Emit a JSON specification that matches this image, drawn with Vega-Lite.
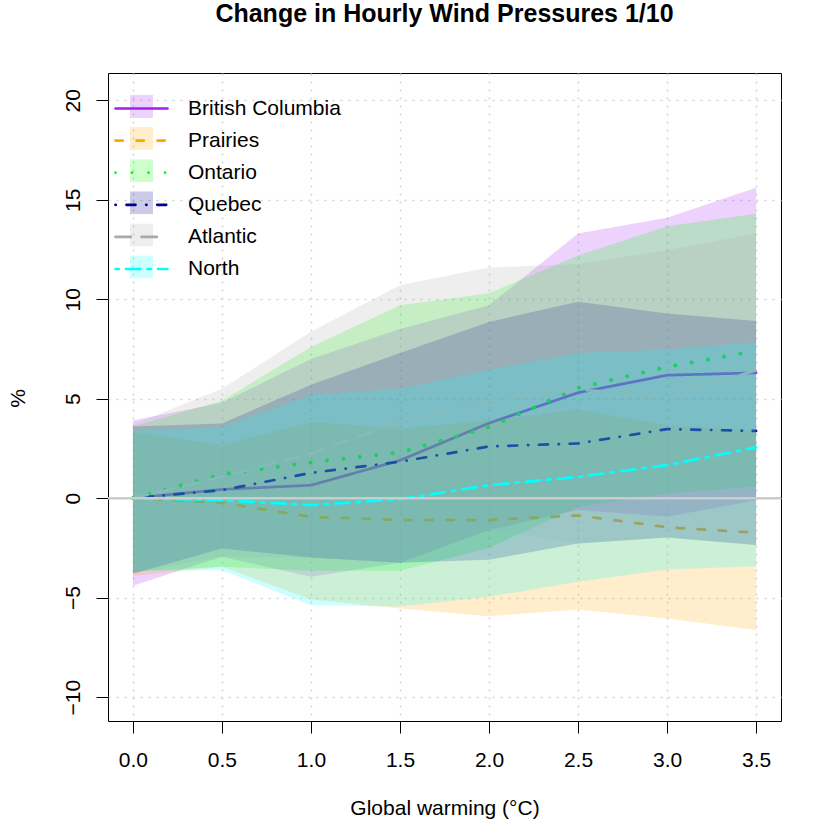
{
"$schema": "https://vega.github.io/schema/vega-lite/v6.json",
"width": 673, "height": 648,
"autosize": {"type": "none"},
"padding": {"left": 108, "top": 73, "right": 50, "bottom": 109},
"background": "white",
"title": {"text": "Change in Hourly Wind Pressures 1/10", "font": "Liberation Sans", "fontSize": 25, "fontWeight": "bold", "color": "black", "anchor": "middle", "offset": 26, "baseline": "alphabetic"},
"datasets": {"d": [
{"region":"British Columbia","x":0,"mean":0,"lo":-4.4,"hi":3.9},
{"region":"British Columbia","x":0.5,"mean":0.44,"lo":-2.95,"hi":4.8},
{"region":"British Columbia","x":1,"mean":0.65,"lo":-3.95,"hi":7.0},
{"region":"British Columbia","x":1.5,"mean":1.9,"lo":-3.25,"hi":8.5},
{"region":"British Columbia","x":2,"mean":3.77,"lo":-1.6,"hi":9.7},
{"region":"British Columbia","x":2.5,"mean":5.3,"lo":-0.6,"hi":13.3},
{"region":"British Columbia","x":3,"mean":6.18,"lo":-0.94,"hi":14.1},
{"region":"British Columbia","x":3.5,"mean":6.3,"lo":-0.1,"hi":15.6},
{"region":"Prairies","x":0,"mean":0,"lo":-3.9,"hi":3.33},
{"region":"Prairies","x":0.5,"mean":-0.23,"lo":-3.45,"hi":2.66},
{"region":"Prairies","x":1,"mean":-0.94,"lo":-5.09,"hi":3.83},
{"region":"Prairies","x":1.5,"mean":-1.1,"lo":-5.55,"hi":3.5},
{"region":"Prairies","x":2,"mean":-1.1,"lo":-5.93,"hi":3.9},
{"region":"Prairies","x":2.5,"mean":-0.87,"lo":-5.6,"hi":4.46},
{"region":"Prairies","x":3,"mean":-1.46,"lo":-6.05,"hi":3.67},
{"region":"Prairies","x":3.5,"mean":-1.74,"lo":-6.63,"hi":3.42},
{"region":"Ontario","x":0,"mean":0,"lo":-3.7,"hi":3.6},
{"region":"Ontario","x":0.5,"mean":1.2,"lo":-3.45,"hi":4.9},
{"region":"Ontario","x":1,"mean":1.8,"lo":-3.65,"hi":7.6},
{"region":"Ontario","x":1.5,"mean":2.3,"lo":-3.65,"hi":9.7},
{"region":"Ontario","x":2,"mean":3.57,"lo":-2.5,"hi":10.3},
{"region":"Ontario","x":2.5,"mean":5.54,"lo":-0.43,"hi":12.2},
{"region":"Ontario","x":3,"mean":6.6,"lo":0.24,"hi":13.67},
{"region":"Ontario","x":3.5,"mean":7.4,"lo":0.57,"hi":14.3},
{"region":"Quebec","x":0,"mean":0,"lo":-3.8,"hi":3.6},
{"region":"Quebec","x":0.5,"mean":0.4,"lo":-2.53,"hi":3.75},
{"region":"Quebec","x":1,"mean":1.27,"lo":-2.98,"hi":5.7},
{"region":"Quebec","x":1.5,"mean":1.83,"lo":-3.25,"hi":7.3},
{"region":"Quebec","x":2,"mean":2.6,"lo":-3.1,"hi":8.86},
{"region":"Quebec","x":2.5,"mean":2.75,"lo":-2.28,"hi":9.87},
{"region":"Quebec","x":3,"mean":3.47,"lo":-1.98,"hi":9.28},
{"region":"Quebec","x":3.5,"mean":3.38,"lo":-2.36,"hi":8.9},
{"region":"Atlantic","x":0,"mean":0,"lo":-3.75,"hi":3.7},
{"region":"Atlantic","x":0.5,"mean":1.07,"lo":-2.95,"hi":5.5},
{"region":"Atlantic","x":1,"mean":2.26,"lo":-2.98,"hi":8.36},
{"region":"Atlantic","x":1.5,"mean":3.83,"lo":-3.25,"hi":10.7},
{"region":"Atlantic","x":2,"mean":4.9,"lo":-1.6,"hi":11.6},
{"region":"Atlantic","x":2.5,"mean":5.46,"lo":-2.28,"hi":11.76},
{"region":"Atlantic","x":3,"mean":5.1,"lo":-1.98,"hi":12.46},
{"region":"Atlantic","x":3.5,"mean":6.43,"lo":-2.36,"hi":13.3},
{"region":"North","x":0,"mean":0,"lo":-3.65,"hi":3.4},
{"region":"North","x":0.5,"mean":-0.1,"lo":-3.62,"hi":3.58},
{"region":"North","x":1,"mean":-0.35,"lo":-5.38,"hi":5.2},
{"region":"North","x":1.5,"mean":-0.05,"lo":-5.45,"hi":5.5},
{"region":"North","x":2,"mean":0.65,"lo":-4.96,"hi":6.45},
{"region":"North","x":2.5,"mean":1.07,"lo":-4.2,"hi":7.3},
{"region":"North","x":3,"mean":1.66,"lo":-3.58,"hi":7.47},
{"region":"North","x":3.5,"mean":2.55,"lo":-3.42,"hi":7.85}
]},
"data": {"name": "d"},
"layer": [
{
"encoding": {"x": {"field": "x", "type": "quantitative", "scale": {"domain": [-0.14, 3.64], "nice": false, "zero": false}, "axis": {"values": [0, 0.5, 1, 1.5, 2, 2.5, 3, 3.5], "format": ".1f", "title": "Global warming (°C)"}}},
"layer": [
{"transform": [{"filter": "datum.region === 'British Columbia'"}], "mark": {"type": "area", "opacity": 0.2},
 "encoding": {"y": {"field": "lo", "type": "quantitative", "scale": {"domain": [-11.2, 21.37], "nice": false, "zero": false}, "axis": {"values": [-10, -5, 0, 5, 10, 15, 20], "title": "%"}}, "y2": {"field": "hi"},
  "fill": {"field": "region", "type": "nominal", "scale": {"domain": ["British Columbia","Prairies","Ontario","Quebec","Atlantic","North"], "range": ["#A020F0","#FFA500","#00FF00","#00008B","#A9A9A9","#00FFFF"]}, "legend": {"orient": "top-left", "offset": 22, "title": null, "symbolType": "square", "symbolSize": 529, "symbolOpacity": 0.2, "symbolStrokeWidth": 0, "labelExpr": "''", "labelFontSize": 21, "rowPadding": 9.1, "clipHeight": 23, "padding": 0}}}},
{"transform": [{"filter": "datum.region === 'British Columbia'"}], "mark": {"type": "line", "strokeWidth": 2.7, "strokeCap": "round"},
 "encoding": {"y": {"field": "mean", "type": "quantitative", "scale": {"domain": [-11.2, 21.37], "nice": false, "zero": false}, "axis": {"values": [-10, -5, 0, 5, 10, 15, 20], "title": "%"}},
  "stroke": {"field": "region", "type": "nominal", "scale": {"domain": ["British Columbia","Prairies","Ontario","Quebec","Atlantic","North"], "range": ["#A020F0","#FFA500","#00FF00","#00008B","#A9A9A9","#00FFFF"]}, "legend": null},
  "strokeDash": {"field": "region", "type": "nominal", "scale": {"domain": ["British Columbia","Prairies","Ontario","Quebec","Atlantic","North"], "range": [[1,0],[7.3,13.7],[0.01,16.5],[0.3,10.7,9,10.7],[15.3,10.7],[3.3,7.2,14.3,7.2]]}, "legend": {"orient": "none", "legendX": 6, "legendY": 24, "title": null, "symbolType": "stroke", "symbolSize": 2704, "symbolStrokeWidth": 2.7, "labelFontSize": 21, "labelFont": "Liberation Sans", "labelColor": "black", "labelOffset": 19, "rowPadding": 9.1, "clipHeight": 23, "padding": 0, "encode": {"symbols": {"update": {"strokeCap": {"value": "round"}, "stroke": {"scale": "stroke", "field": "value"}}}}}}}},
{"transform": [{"filter": "datum.region === 'Prairies'"}], "mark": {"type": "area", "opacity": 0.2},
 "encoding": {"y": {"field": "lo", "type": "quantitative", "scale": {"domain": [-11.2, 21.37], "nice": false, "zero": false}, "axis": {"values": [-10, -5, 0, 5, 10, 15, 20], "title": "%"}}, "y2": {"field": "hi"},
  "fill": {"field": "region", "type": "nominal", "scale": {"domain": ["British Columbia","Prairies","Ontario","Quebec","Atlantic","North"], "range": ["#A020F0","#FFA500","#00FF00","#00008B","#A9A9A9","#00FFFF"]}}}},
{"transform": [{"filter": "datum.region === 'Prairies'"}], "mark": {"type": "line", "strokeWidth": 2.7, "strokeCap": "round"},
 "encoding": {"y": {"field": "mean", "type": "quantitative", "scale": {"domain": [-11.2, 21.37], "nice": false, "zero": false}, "axis": {"values": [-10, -5, 0, 5, 10, 15, 20], "title": "%"}},
  "stroke": {"field": "region", "type": "nominal", "scale": {"domain": ["British Columbia","Prairies","Ontario","Quebec","Atlantic","North"], "range": ["#A020F0","#FFA500","#00FF00","#00008B","#A9A9A9","#00FFFF"]}, "legend": null},
  "strokeDash": {"field": "region", "type": "nominal", "scale": {"domain": ["British Columbia","Prairies","Ontario","Quebec","Atlantic","North"], "range": [[1,0],[7.3,13.7],[0.01,16.5],[0.3,10.7,9,10.7],[15.3,10.7],[3.3,7.2,14.3,7.2]]}}}},
{"transform": [{"filter": "datum.region === 'Ontario'"}], "mark": {"type": "area", "opacity": 0.2},
 "encoding": {"y": {"field": "lo", "type": "quantitative", "scale": {"domain": [-11.2, 21.37], "nice": false, "zero": false}, "axis": {"values": [-10, -5, 0, 5, 10, 15, 20], "title": "%"}}, "y2": {"field": "hi"},
  "fill": {"field": "region", "type": "nominal", "scale": {"domain": ["British Columbia","Prairies","Ontario","Quebec","Atlantic","North"], "range": ["#A020F0","#FFA500","#00FF00","#00008B","#A9A9A9","#00FFFF"]}}}},
{"transform": [{"filter": "datum.region === 'Ontario'"}], "mark": {"type": "line", "strokeWidth": 4, "strokeCap": "round"},
 "encoding": {"y": {"field": "mean", "type": "quantitative", "scale": {"domain": [-11.2, 21.37], "nice": false, "zero": false}, "axis": {"values": [-10, -5, 0, 5, 10, 15, 20], "title": "%"}},
  "stroke": {"field": "region", "type": "nominal", "scale": {"domain": ["British Columbia","Prairies","Ontario","Quebec","Atlantic","North"], "range": ["#A020F0","#FFA500","#00FF00","#00008B","#A9A9A9","#00FFFF"]}, "legend": null},
  "strokeDash": {"field": "region", "type": "nominal", "scale": {"domain": ["British Columbia","Prairies","Ontario","Quebec","Atlantic","North"], "range": [[1,0],[7.3,13.7],[0.01,16.5],[0.3,10.7,9,10.7],[15.3,10.7],[3.3,7.2,14.3,7.2]]}}}},
{"transform": [{"filter": "datum.region === 'Quebec'"}], "mark": {"type": "area", "opacity": 0.2},
 "encoding": {"y": {"field": "lo", "type": "quantitative", "scale": {"domain": [-11.2, 21.37], "nice": false, "zero": false}, "axis": {"values": [-10, -5, 0, 5, 10, 15, 20], "title": "%"}}, "y2": {"field": "hi"},
  "fill": {"field": "region", "type": "nominal", "scale": {"domain": ["British Columbia","Prairies","Ontario","Quebec","Atlantic","North"], "range": ["#A020F0","#FFA500","#00FF00","#00008B","#A9A9A9","#00FFFF"]}}}},
{"transform": [{"filter": "datum.region === 'Quebec'"}], "mark": {"type": "line", "strokeWidth": 2.7, "strokeCap": "round"},
 "encoding": {"y": {"field": "mean", "type": "quantitative", "scale": {"domain": [-11.2, 21.37], "nice": false, "zero": false}, "axis": {"values": [-10, -5, 0, 5, 10, 15, 20], "title": "%"}},
  "stroke": {"field": "region", "type": "nominal", "scale": {"domain": ["British Columbia","Prairies","Ontario","Quebec","Atlantic","North"], "range": ["#A020F0","#FFA500","#00FF00","#00008B","#A9A9A9","#00FFFF"]}, "legend": null},
  "strokeDash": {"field": "region", "type": "nominal", "scale": {"domain": ["British Columbia","Prairies","Ontario","Quebec","Atlantic","North"], "range": [[1,0],[7.3,13.7],[0.01,16.5],[0.3,10.7,9,10.7],[15.3,10.7],[3.3,7.2,14.3,7.2]]}}}},
{"transform": [{"filter": "datum.region === 'Atlantic'"}], "mark": {"type": "area", "opacity": 0.2},
 "encoding": {"y": {"field": "lo", "type": "quantitative", "scale": {"domain": [-11.2, 21.37], "nice": false, "zero": false}, "axis": {"values": [-10, -5, 0, 5, 10, 15, 20], "title": "%"}}, "y2": {"field": "hi"},
  "fill": {"field": "region", "type": "nominal", "scale": {"domain": ["British Columbia","Prairies","Ontario","Quebec","Atlantic","North"], "range": ["#A020F0","#FFA500","#00FF00","#00008B","#A9A9A9","#00FFFF"]}}}},
{"transform": [{"filter": "datum.region === 'Atlantic'"}], "mark": {"type": "line", "strokeWidth": 2.7, "strokeCap": "round"},
 "encoding": {"y": {"field": "mean", "type": "quantitative", "scale": {"domain": [-11.2, 21.37], "nice": false, "zero": false}, "axis": {"values": [-10, -5, 0, 5, 10, 15, 20], "title": "%"}},
  "stroke": {"field": "region", "type": "nominal", "scale": {"domain": ["British Columbia","Prairies","Ontario","Quebec","Atlantic","North"], "range": ["#A020F0","#FFA500","#00FF00","#00008B","#A9A9A9","#00FFFF"]}, "legend": null},
  "strokeDash": {"field": "region", "type": "nominal", "scale": {"domain": ["British Columbia","Prairies","Ontario","Quebec","Atlantic","North"], "range": [[1,0],[7.3,13.7],[0.01,16.5],[0.3,10.7,9,10.7],[15.3,10.7],[3.3,7.2,14.3,7.2]]}}}},
{"transform": [{"filter": "datum.region === 'North'"}], "mark": {"type": "area", "opacity": 0.2},
 "encoding": {"y": {"field": "lo", "type": "quantitative", "scale": {"domain": [-11.2, 21.37], "nice": false, "zero": false}, "axis": {"values": [-10, -5, 0, 5, 10, 15, 20], "title": "%"}}, "y2": {"field": "hi"},
  "fill": {"field": "region", "type": "nominal", "scale": {"domain": ["British Columbia","Prairies","Ontario","Quebec","Atlantic","North"], "range": ["#A020F0","#FFA500","#00FF00","#00008B","#A9A9A9","#00FFFF"]}}}},
{"transform": [{"filter": "datum.region === 'North'"}], "mark": {"type": "line", "strokeWidth": 2.7, "strokeCap": "round"},
 "encoding": {"y": {"field": "mean", "type": "quantitative", "scale": {"domain": [-11.2, 21.37], "nice": false, "zero": false}, "axis": {"values": [-10, -5, 0, 5, 10, 15, 20], "title": "%"}},
  "stroke": {"field": "region", "type": "nominal", "scale": {"domain": ["British Columbia","Prairies","Ontario","Quebec","Atlantic","North"], "range": ["#A020F0","#FFA500","#00FF00","#00008B","#A9A9A9","#00FFFF"]}, "legend": null},
  "strokeDash": {"field": "region", "type": "nominal", "scale": {"domain": ["British Columbia","Prairies","Ontario","Quebec","Atlantic","North"], "range": [[1,0],[7.3,13.7],[0.01,16.5],[0.3,10.7,9,10.7],[15.3,10.7],[3.3,7.2,14.3,7.2]]}}}}
]
},
{"data": {"values": [{}]}, "mark": {"type": "rule", "color": "#CCCCCC", "strokeWidth": 2.5}, "encoding": {"y": {"datum": 0, "type": "quantitative"}}}
],
"config": {
 "font": "Liberation Sans",
 "view": {"stroke": "black", "strokeWidth": 1},
 "axis": {"labelFont": "Liberation Sans", "labelFontSize": 21, "labelColor": "black", "tickColor": "black", "tickSize": 12, "tickWidth": 1, "domain": false, "grid": true, "gridColor": "#D3D3D3", "gridDash": [2, 6], "gridWidth": 1.5, "titleFont": "Liberation Sans", "titleFontSize": 21, "titleFontWeight": "normal", "titleColor": "black", "labelFlush": false, "labelOverlap": false},
 "axisX": {"labelPadding": 16, "titleY": 87, "titleBaseline": "middle"},
 "axisY": {"labelAngle": -90, "labelAlign": "center", "labelBaseline": "bottom", "labelPadding": 13, "titleX": -90, "titleY": 325, "titleAngle": -90, "titleBaseline": "middle"}
}
}
